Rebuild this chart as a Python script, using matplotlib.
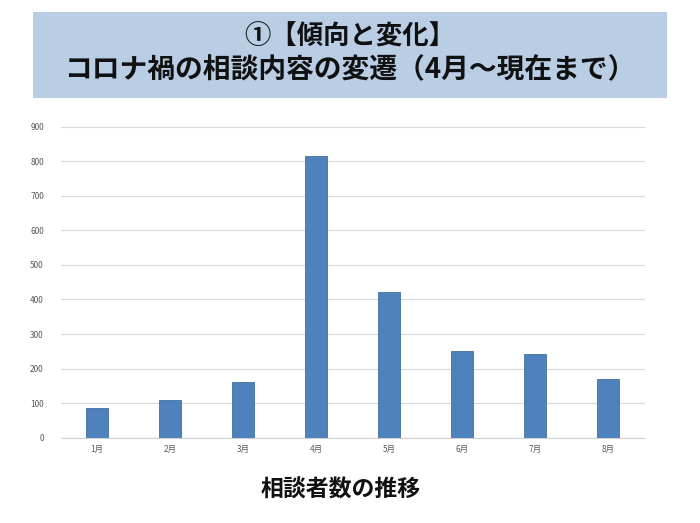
import matplotlib
matplotlib.use("Agg")
import matplotlib.pyplot as plt
import matplotlib.patches as patches

plt.rcParams['font.family'] = ['Noto Sans CJK JP', 'DejaVu Sans']

# data
months = ["1月", "2月", "3月", "4月", "5月", "6月", "7月", "8月"]
counts = [85, 109, 162, 815, 422, 251, 241, 170]
yticks = [0, 100, 200, 300, 400, 500, 600, 700, 800, 900]

title_1 = "①【傾向と変化】"
title_2 = "コロナ禍の相談内容の変遷（4月～現在まで）"
xlabel = "相談者数の推移"

fig = plt.figure(figsize=(7, 5.23), dpi=100)

# title box across the top
box = patches.Rectangle((33 / 700, 1 - 98 / 523), 634 / 700, 86 / 523,
                        transform=fig.transFigure, facecolor='#b9cde5',
                        edgecolor='none')
fig.patches.append(box)
fig.text(0.5, 1 - 37 / 523, title_1, ha='center', va='center',
         fontsize=19, fontweight='bold', color='#111111')
fig.text(0.5, 1 - 70 / 523, title_2, ha='center', va='center',
         fontsize=20, fontweight='bold', color='#111111')

ax = fig.add_axes([60.5 / 700, 1 - 437.7 / 523, 584 / 700, 311 / 523])
x = range(len(months))
ax.bar(x, counts, width=0.3, color='#4f81bd', edgecolor='#41719c',
       linewidth=0.6, zorder=3)
ax.set_xlim(-0.5, len(months) - 0.5)
ax.set_ylim(0, 900)
ax.set_yticks(yticks)
ax.set_xticks(list(x))
ax.set_xticklabels(months)
ax.tick_params(axis='both', length=0, labelsize=6, labelcolor='#595959')
ax.tick_params(axis='y', pad=12)
ax.tick_params(axis='x', pad=5)
ax.grid(axis='y', color='#d9d9d9', linewidth=0.8, zorder=0)
for s in ['top', 'right', 'left']:
    ax.spines[s].set_visible(False)
ax.spines['bottom'].set_color('#d0d0d0')
ax.spines['bottom'].set_linewidth(0.8)

fig.text(341 / 700, 1 - 490 / 523, xlabel, ha='center', va='center',
         fontsize=16.5, fontweight='bold', color='#111111')

fig.savefig('out.png', dpi=100)
